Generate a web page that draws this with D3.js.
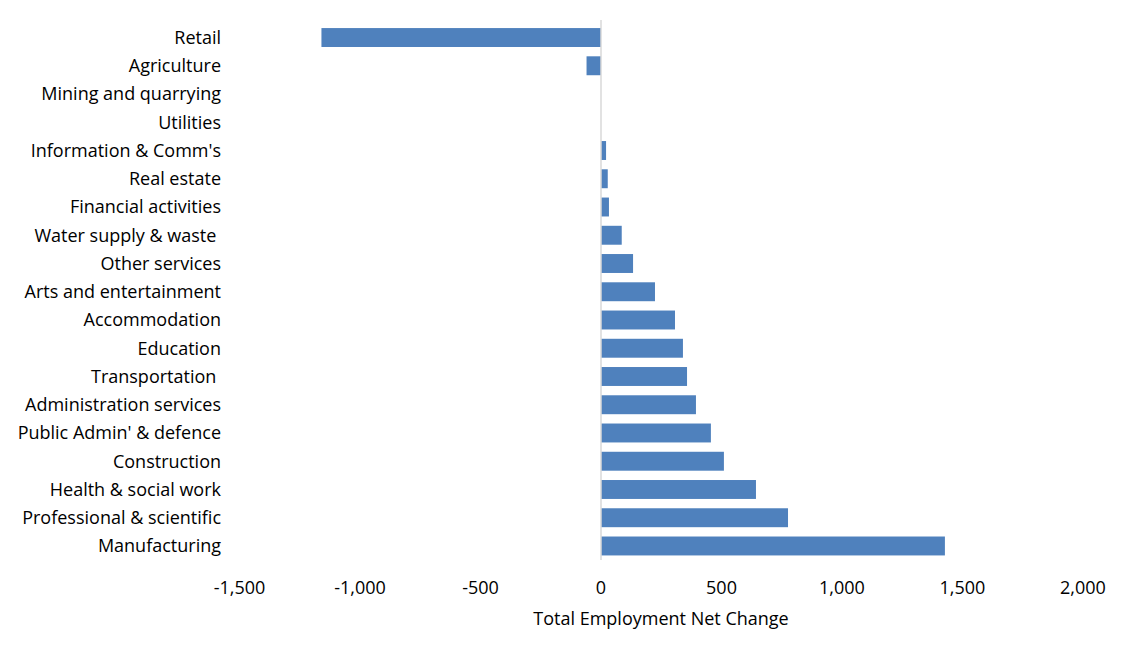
<!DOCTYPE html>
<html><head><meta charset="utf-8">
<script src="https://cdn.jsdelivr.net/npm/d3@7/dist/d3.min.js"></script>
<style>html,body{margin:0;padding:0;background:#fff;} text{white-space:pre;}</style>
</head><body>
<svg id="chart" width="1129" height="657"></svg>
<script>
const categories = ["Retail","Agriculture","Mining and quarrying","Utilities","Information & Comm's","Real estate","Financial activities","Water supply & waste ","Other services","Arts and entertainment","Accommodation","Education","Transportation ","Administration services","Public Admin' & defence","Construction","Health & social work","Professional & scientific","Manufacturing"];
const values = [-1160,-60,0,0,21,28,33,86,133,224,307,340,357,394,456,510,643,776,1427];
const xTicks = [-1500,-1000,-500,0,500,1000,1500,2000];
const xTitle = "Total Employment Net Change";

const svg = d3.select("#chart");
const font = "'Open Sans', sans-serif";
const fs = 18;
const x = d3.scaleLinear().domain([-1500,2000]).range([239.5,1083]);
const y = d3.scaleBand().domain(categories).range([23.4,560.1]).paddingInner(0.33).paddingOuter(0.165);

svg.append("g").selectAll("rect").data(values).join("rect")
  .attr("x", d => x(Math.min(0,d)))
  .attr("width", d => Math.abs(x(d)-x(0)))
  .attr("y", (d,i) => y(categories[i]))
  .attr("height", y.bandwidth())
  .attr("fill", "#4F81BD");

svg.append("line").attr("x1", x(0)).attr("x2", x(0)).attr("y1", 20).attr("y2", 560)
  .attr("stroke", "#D9D9D9").attr("stroke-width", 1.5);

svg.append("g").selectAll("text").data(categories).join("text")
  .attr("x", 221).attr("y", d => y(d)+y.bandwidth()/2)
  .attr("dy", "0.35em").attr("text-anchor","end")
  .attr("font-family", font).attr("font-size", fs).attr("fill","#000")
  .text(d => d);

const fmt = d3.formatLocale({decimal:".", thousands:",", grouping:[3], currency:["",""], minus:"-"}).format(",");
svg.append("g").selectAll("text").data(xTicks).join("text")
  .attr("x", d => x(d)).attr("y", 587.5).attr("dy","0.35em")
  .attr("text-anchor","middle").attr("font-family", font).attr("font-size", fs)
  .text(d => fmt(d));

svg.append("text").attr("x", 661).attr("y", 618.5).attr("dy","0.35em")
  .attr("text-anchor","middle").attr("font-family", font).attr("font-size", fs)
  .text(xTitle);
</script>
</body></html>
